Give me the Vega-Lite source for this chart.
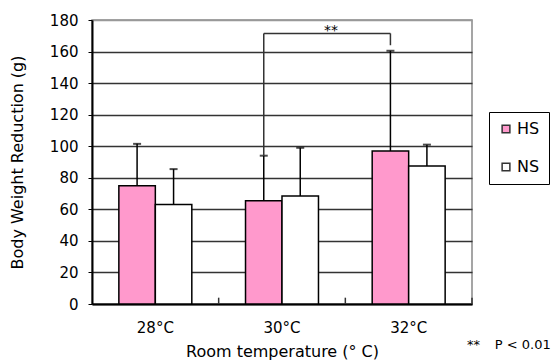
{
  "$schema": "https://vega.github.io/schema/vega-lite/v6.json",
  "width": 380,
  "height": 284,
  "autosize": {"type": "none"},
  "padding": {"left": 92, "top": 20, "right": 88, "bottom": 57},
  "background": "white",
  "config": {
    "font": "DejaVu Sans",
    "view": {"stroke": "#888", "strokeWidth": 1.5},
    "axis": {"titleFontWeight": "normal", "labelColor": "black", "titleColor": "black"},
    "axisY": {
      "labelFontSize": 15, "titleFontSize": 16, "titlePadding": 24,
      "tickSize": 4, "tickColor": "black", "labelPadding": 10, "labelOverlap": false,
      "domainColor": "black", "domainWidth": 2,
      "grid": true, "gridColor": {"condition": {"test": "datum.value >= 180", "value": "#999"}, "value": "#333"}, "gridWidth": 1.6
    }
  },
  "datasets": {
    "bars": [
      {"temp": "28°C", "group": "HS", "value": 75, "upper": 101.5},
      {"temp": "28°C", "group": "NS", "value": 63, "upper": 85.5},
      {"temp": "30°C", "group": "HS", "value": 65.5, "upper": 94},
      {"temp": "30°C", "group": "NS", "value": 68.5, "upper": 99},
      {"temp": "32°C", "group": "HS", "value": 97, "upper": 160.5},
      {"temp": "32°C", "group": "NS", "value": 87.5, "upper": 101}
    ],
    "bracket": [
      {"x": 1.356, "x2": 1.356, "y": 94, "y2": 171.5},
      {"x": 1.356, "x2": 2.356, "y": 171.5, "y2": 171.5},
      {"x": 2.356, "x2": 2.356, "y": 171.5, "y2": 164},
      {"x": 1, "x2": 1, "y": 0, "y2": 4},
      {"x": 2, "x2": 2, "y": 0, "y2": 4},
      {"x": 3, "x2": 3, "y": 0, "y2": 4}
    ],
    "star": [{"label": "**", "x": 1.887, "y": 173}],
    "note": [{"label": "**", "x": 2.96, "y": -26}, {"label": "P < 0.01", "x": 3.18, "y": -26}]
  },
  "layer": [
    {
      "data": {"name": "bars"},
      "encoding": {
        "x": {
          "field": "temp", "type": "nominal", "sort": ["28°C", "30°C", "32°C"],
          "scale": {"paddingInner": 0.424, "paddingOuter": 0.212},
          "axis": {
            "title": "Room temperature (° C)", "labelAngle": 0, "labelFontSize": 15,
            "titleFontSize": 16, "titlePadding": 8, "ticks": false,
            "domainColor": "black", "domainWidth": 2, "labelPadding": 16
          }
        },
        "xOffset": {"field": "group", "type": "nominal", "sort": ["HS", "NS"], "scale": {"paddingInner": 0, "paddingOuter": 0}},
        "y": {
          "field": "value", "type": "quantitative", "title": "Body Weight Reduction (g)",
          "scale": {"domain": [0, 180], "nice": false},
          "axis": {"values": [0, 20, 40, 60, 80, 100, 120, 140, 160, 180]}
        }
      },
      "layer": [
        {
          "mark": {"type": "bar", "stroke": "black", "strokeWidth": 1.5},
          "encoding": {
            "fill": {
              "field": "group", "type": "nominal",
              "scale": {"domain": ["HS", "NS"], "range": ["#ff99cc", "#ffffff"]},
              "legend": {
                "title": null, "orient": "none", "legendX": 397, "legendY": 92,
                "strokeColor": "black", "padding": 9, "labelFontSize": 16,
                "symbolType": "square", "symbolSize": 60, "symbolStrokeColor": "#333",
                "symbolStrokeWidth": 1.5, "rowPadding": 22, "labelOffset": 3, "labelColor": "black"
              }
            }
          }
        },
        {
          "mark": {"type": "rule", "color": "black", "strokeWidth": 1.5},
          "encoding": {"y2": {"field": "upper"}}
        },
        {
          "mark": {"type": "tick", "color": "black", "thickness": 2, "size": 8},
          "encoding": {"y": {"field": "upper", "type": "quantitative", "title": "Body Weight Reduction (g)", "axis": {"values": [0, 20, 40, 60, 80, 100, 120, 140, 160, 180]}}}
        }
      ]
    },
    {
      "encoding": {
        "x": {"field": "x", "type": "quantitative", "scale": {"domain": [0, 3], "nice": false, "zero": false}, "axis": null},
        "y": {"field": "y", "type": "quantitative", "title": "Body Weight Reduction (g)", "axis": {"values": [0, 20, 40, 60, 80, 100, 120, 140, 160, 180]}}
      },
      "layer": [
        {
          "data": {"name": "bracket"},
          "mark": {"type": "rule", "color": "#333", "strokeWidth": 1.5},
          "encoding": {"x2": {"field": "x2"}, "y2": {"field": "y2"}}
        },
        {
          "data": {"name": "star"},
          "mark": {"type": "text", "color": "black", "baseline": "middle", "align": "center", "fontSize": 14},
          "encoding": {"text": {"field": "label"}}
        },
        {
          "data": {"name": "note"},
          "mark": {"type": "text", "color": "black", "baseline": "middle", "align": "left", "fontSize": 13},
          "encoding": {"text": {"field": "label"}}
        }
      ]
    }
  ],
  "resolve": {"scale": {"x": "independent"}}
}
